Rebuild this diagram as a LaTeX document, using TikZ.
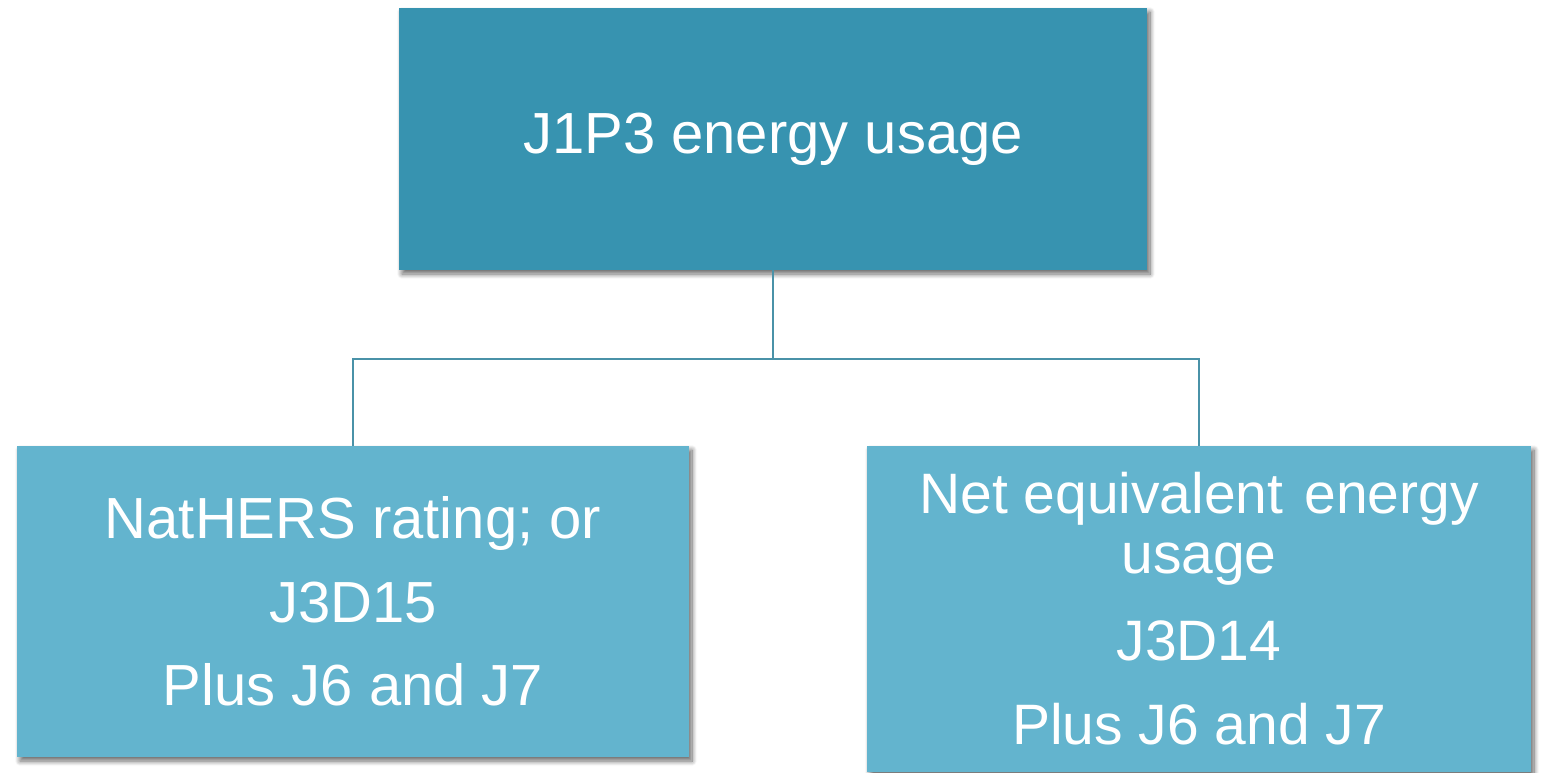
\documentclass[tikz,border=0pt]{standalone}
\usepackage{fontspec}
\setmainfont{Liberation Sans}
\usetikzlibrary{shadows.blur}

\definecolor{topfill}{RGB}{55,147,176}
\definecolor{subfill}{RGB}{99,180,206}
\definecolor{linkcol}{RGB}{74,146,168}

\tikzset{
  boxshadow/.style={blur shadow={shadow xshift=3pt, shadow yshift=-4pt,
      shadow blur radius=5pt, shadow blur steps=10, shadow opacity=60}},
  headbox/.style={rectangle, fill=topfill, boxshadow, text=white, align=center,
      inner sep=0pt, minimum width=748pt, minimum height=262pt,
      font=\fontsize{58}{70}\selectfont},
  leafbox/.style={rectangle, fill=subfill, boxshadow, text=white, align=center,
      inner sep=0pt},
  link/.style={draw=linkcol, line width=2.8pt}
}

\begin{document}
\begin{tikzpicture}[x=1pt, y=-1pt]
  \useasboundingbox (0,0) rectangle (1542,772);

  % root
  \node[headbox] (root) at (773,139) {\raisebox{-2pt}{J1P3 energy usage}};

  % two alternative routes
  \node[leafbox, minimum width=672pt, minimum height=311pt,
        font=\fontsize{58}{83.5}\selectfont]
        (nathers) at (353,601.5)
        {NatHERS rating; or\\J3D15\\Plus J6 and J7};
  \node[leafbox, minimum width=664pt, minimum height=326pt,
        font=\fontsize{57}{60}\selectfont]
        (neteq) at (1199,609)
        {Net equivalent\hspace{5pt} energy\\usage\\[27pt]J3D14\\[24pt]Plus J6 and J7};

  % tree connectors
  \coordinate (bus) at (773,359);
  \draw[link] (root.south) -- (bus);
  \draw[link] (bus) -| (nathers.north);
  \draw[link] (bus) -| (neteq.north);
\end{tikzpicture}
\end{document}
